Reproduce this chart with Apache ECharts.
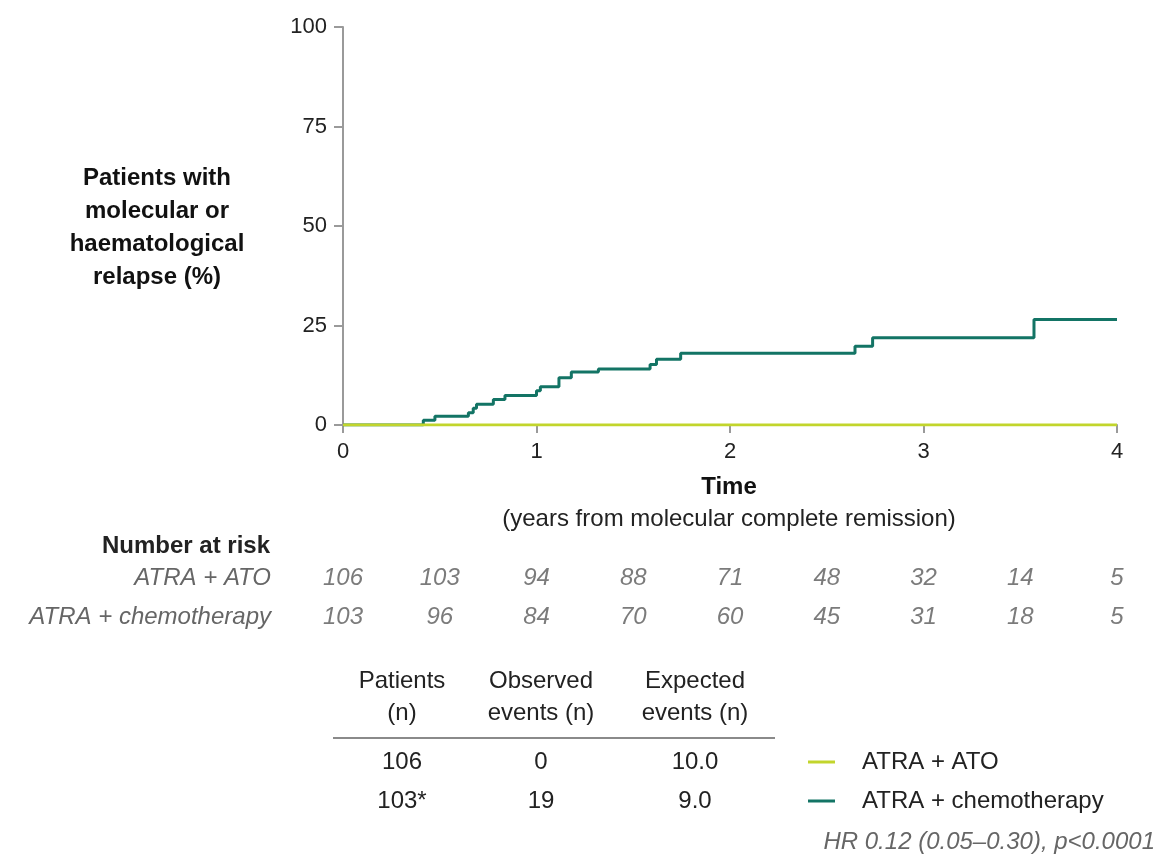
<!DOCTYPE html>
<html>
<head>
<meta charset="utf-8">
<script src="https://cdn.jsdelivr.net/npm/echarts@6/dist/echarts.min.js"></script>
<style>html,body{margin:0;padding:0;background:#fff;}#c{width:1158px;height:857px;}</style>
</head>
<body>
<div id="c"></div>
<script>
// ---- data ----
var chemoTimes = [0, 0.415, 0.475, 0.648, 0.673, 0.69, 0.777, 0.837, 1.0, 1.02, 1.116, 1.18, 1.32, 1.587, 1.62, 1.745, 2.646, 2.737, 3.571, 4.0];
var chemoPct   = [0, 1.2, 2.2, 3.1, 4.2, 5.2, 6.4, 7.4, 8.6, 9.6, 11.9, 13.3, 14.1, 15.2, 16.5, 18.0, 19.8, 21.9, 26.5, 26.5];
var atoTimes = [0, 4.0];
var atoPct   = [0, 0];
var seriesNames = ['ATRA + ATO', 'ATRA + chemotherapy'];
var riskTimes = [0, 0.5, 1, 1.5, 2, 2.5, 3, 3.5, 4];
var riskATO   = [106, 103, 94, 88, 71, 48, 32, 14, 5];
var riskChemo = [103, 96, 84, 70, 60, 45, 31, 18, 5];
var tableHeaders = ['Patients\n(n)', 'Observed\nevents (n)', 'Expected\nevents (n)'];
var tablePatients = ['106', '103*'];
var tableObserved = ['0', '19'];
var tableExpected = ['10.0', '9.0'];
var hrText = 'HR 0.12 (0.05\u20130.30), p<0.0001';

var colATO = '#c2d52c';
var colChemo = '#137465';
var FONT = '"Liberation Sans", Arial, sans-serif';

function pairs(xs, ys) { return xs.map(function (x, i) { return [x, ys[i]]; }); }
var riskData = [];
riskTimes.forEach(function (t, i) {
  riskData.push([t, seriesNames[0], riskATO[i]]);
  riskData.push([t, seriesNames[1], riskChemo[i]]);
});

var chart = echarts.init(document.getElementById('c'), null, {renderer: 'canvas'});

var graphics = [];
function txt(x, y, text, opt) {
  var s = Object.assign({text: text, x: x, y: y, fill: '#1a1a1a', font: '24px ' + FONT, textAlign: 'center', textVerticalAlign: 'middle'}, opt || {});
  graphics.push({type: 'text', style: s, silent: true});
}
// y-axis title
txt(157, 228, 'Patients with\nmolecular or\nhaematological\nrelapse (%)', {font: 'bold 24px ' + FONT, lineHeight: 33, fill: '#111'});
// x-axis title
txt(729, 487, 'Time', {font: 'bold 24px ' + FONT, fill: '#111'});
txt(729, 519, '(years from molecular complete remission)', {font: '24px ' + FONT, fill: '#222'});
// number at risk header
txt(270, 546, 'Number at risk', {font: 'bold 24px ' + FONT, textAlign: 'right', fill: '#222'});
// table
var colX = [402, 541, 695];
tableHeaders.forEach(function (h, i) { txt(colX[i], 697, h, {lineHeight: 32, font: '24px ' + FONT, fill: '#222'}); });
graphics.push({type: 'line', shape: {x1: 333, y1: 738, x2: 775, y2: 738}, style: {stroke: '#8a8a8a', lineWidth: 2}, silent: true});
var rowY = [762, 801];
[tablePatients, tableObserved, tableExpected].forEach(function (col, ci) {
  col.forEach(function (v, ri) { txt(colX[ci], rowY[ri], v, {font: '24px ' + FONT, fill: '#222'}); });
});
// legend
[colATO, colChemo].forEach(function (c, i) {
  graphics.push({type: 'line', shape: {x1: 808, y1: rowY[i], x2: 835, y2: rowY[i]}, style: {stroke: c, lineWidth: 3}, silent: true});
  txt(862, rowY[i], seriesNames[i], {textAlign: 'left', font: '24px ' + FONT, fill: '#222'});
});
txt(1155, 842, hrText, {textAlign: 'right', font: 'italic 24px ' + FONT, fill: '#666'});

var option = {
  animation: false,
  backgroundColor: '#fff',
  textStyle: {fontFamily: FONT},
  grid: [
    {left: 343, right: 41, top: 27, bottom: 432, containLabel: false},
    {left: 343, right: 41, top: 559, height: 78, containLabel: false}
  ],
  xAxis: [
    {gridIndex: 0, type: 'value', min: 0, max: 4, interval: 1,
      axisLine: {lineStyle: {color: '#9a9a9a', width: 2}},
      axisTick: {show: true, length: 8, lineStyle: {color: '#9a9a9a', width: 2}},
      axisLabel: {fontSize: 22, color: '#222', margin: 16},
      splitLine: {show: false}},
    {gridIndex: 1, type: 'value', min: 0, max: 4, show: false}
  ],
  yAxis: [
    {gridIndex: 0, type: 'value', min: 0, max: 100, interval: 25,
      axisLine: {show: true, lineStyle: {color: '#9a9a9a', width: 2}},
      axisTick: {show: true, length: 9, lineStyle: {color: '#9a9a9a', width: 2}},
      axisLabel: {fontSize: 22, color: '#222', margin: 16},
      splitLine: {show: false}},
    {gridIndex: 1, type: 'category', data: seriesNames, inverse: true,
      axisLine: {show: false}, axisTick: {show: false}, splitLine: {show: false},
      axisLabel: {fontSize: 24, fontStyle: 'italic', color: '#666', margin: 72}}
  ],
  series: [
    {name: seriesNames[1], type: 'line', xAxisIndex: 0, yAxisIndex: 0, step: 'end', symbol: 'none',
      data: pairs(chemoTimes, chemoPct), lineStyle: {color: colChemo, width: 3}, z: 3},
    {name: seriesNames[0], type: 'line', xAxisIndex: 0, yAxisIndex: 0, symbol: 'none',
      data: pairs(atoTimes, atoPct), lineStyle: {color: colATO, width: 3}, z: 4},
    {type: 'scatter', xAxisIndex: 1, yAxisIndex: 1, symbolSize: 0, data: riskData,
      label: {show: true, position: 'inside', formatter: function (p) { return String(p.value[2]); },
        fontSize: 24, fontStyle: 'italic', color: '#5a5a5a'}}
  ],
  graphic: graphics
};
chart.setOption(option);
</script>
</body>
</html>
